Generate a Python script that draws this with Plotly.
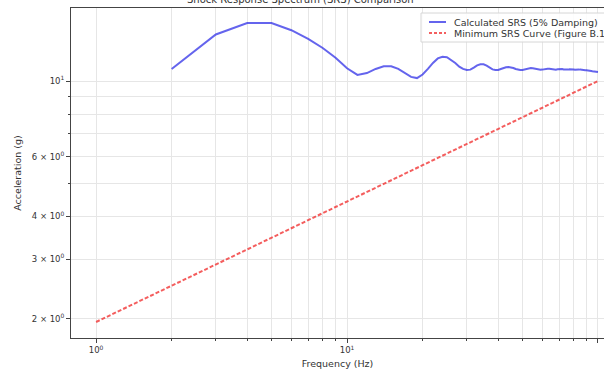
import plotly.graph_objects as go

# Data
calc_freq = list(range(2, 101))
calc_srs = [
    10.85, 13.7, 14.8, 14.8, 14.1, 13.3, 12.5, 11.7, 10.9,          # 2-10
    10.42, 10.55, 10.85, 11.05, 11.05, 10.85, 10.55, 10.28, 10.2, 10.45,  # 11-20
    10.85, 11.3, 11.65, 11.78, 11.75, 11.55, 11.3, 11.02, 10.85, 10.77,  # 21-30
    10.8, 10.95, 11.12, 11.2, 11.2, 11.1, 10.95, 10.82, 10.77, 10.78,    # 31-40
    10.85, 10.93, 10.98, 11.0, 10.98, 10.92, 10.85, 10.8, 10.77, 10.77,  # 41-50
    10.8, 10.86, 10.9, 10.92, 10.9, 10.86, 10.82, 10.8, 10.79, 10.8,     # 51-60
    10.83, 10.86, 10.87, 10.86, 10.83, 10.8, 10.78, 10.79, 10.82, 10.84, # 61-70
    10.85, 10.84, 10.81, 10.79, 10.79, 10.8, 10.82, 10.83, 10.83, 10.81, # 71-80
    10.79, 10.78, 10.78, 10.8, 10.81, 10.81, 10.8, 10.78, 10.76, 10.75,  # 81-90
    10.75, 10.74, 10.72, 10.7, 10.68, 10.66, 10.64, 10.63, 10.62, 10.62, # 91-100
]
min_freq = [1, 10, 100]
min_srs = [1.96, 4.43, 10.0]

series_names = ["Calculated SRS (5% Damping)", "Minimum SRS Curve (Figure B.1)"]

x_major = [1, 10, 100]
x_major_text = ["10<sup>0</sup>", "10<sup>1</sup>", "10<sup>2</sup>"]
x_minor = [2, 3, 4, 5, 6, 7, 8, 9, 20, 30, 40, 50, 60, 70, 80, 90]
y_major = [2, 3, 4, 6, 10]
y_major_text = ["2 × 10<sup>0</sup>", "3 × 10<sup>0</sup>", "4 × 10<sup>0</sup>",
                "6 × 10<sup>0</sup>", "10<sup>1</sup>"]
y_minor = [5, 7, 8, 9]

title = "Shock Response Spectrum (SRS) Comparison"

blue = "rgba(40,40,230,0.72)"
red = "rgba(240,40,40,0.75)"

fig = go.Figure()
fig.add_trace(go.Scatter(x=calc_freq, y=calc_srs, mode="lines",
                         name=series_names[0],
                         line=dict(color=blue, width=2)))
fig.add_trace(go.Scatter(x=min_freq, y=min_srs, mode="lines",
                         name=series_names[1],
                         line=dict(color=red, width=2, dash="4px,2px")))

# plot area geometry in pixels (for the hand-drawn legend)
L, R, T, B = 71, 604, 8, 338
W, H = R - L, B - T
px = lambda x: (x - L) / W
py = lambda y: 1 - (y - T) / H

shapes = [
    dict(type="rect", xref="paper", yref="paper", x0=px(421), x1=px(615),
         y0=py(42), y1=py(13), line=dict(color="#d6d6d6", width=1),
         fillcolor="rgba(255,255,255,0.85)", layer="above"),
    dict(type="line", xref="paper", yref="paper", x0=px(429), x1=px(446),
         y0=py(22), y1=py(22), line=dict(color=blue, width=2), layer="above"),
    dict(type="line", xref="paper", yref="paper", x0=px(429), x1=px(446),
         y0=py(33), y1=py(33), line=dict(color=red, width=2, dash="3px,2px"), layer="above"),
]
annotations = [
    dict(text=title, xref="paper", yref="paper", x=px(300),
         y=1.0, yshift=9, xanchor="center", yanchor="middle",
         showarrow=False, font=dict(size=10, color="#333")),
    dict(text=series_names[0], xref="paper", yref="paper", x=px(452), y=py(22),
         xanchor="left", yanchor="middle", showarrow=False,
         font=dict(size=9.5, color="#333")),
    dict(text=series_names[1], xref="paper", yref="paper", x=px(452), y=py(33),
         xanchor="left", yanchor="middle", showarrow=False,
         font=dict(size=9.5, color="#333")),
]

grid = "#e6e6e6"
fig.update_layout(
    width=604, height=373,
    margin=dict(l=L, r=0, t=T, b=373 - B),
    paper_bgcolor="white", plot_bgcolor="white",
    font=dict(family="DejaVu Sans", size=8.5, color="#333"),
    showlegend=False,
    shapes=shapes,
    annotations=annotations,
)
fig.update_xaxes(type="log", range=[-0.1, 2.024],
                 tickvals=x_major, ticktext=x_major_text,
                 showgrid=True, gridcolor=grid, gridwidth=1,
                 ticks="outside", ticklen=4, tickcolor="#444",
                 showline=True, linecolor="#444", linewidth=1, mirror=True,
                 zeroline=False,
                 minor=dict(tickvals=x_minor, ticks="outside", ticklen=2,
                            tickcolor="#444", showgrid=True, gridcolor=grid),
                 title=dict(text="Frequency (Hz)", standoff=6, font=dict(size=9.5)))
fig.update_yaxes(type="log", range=[0.2452, 1.2144],
                 tickvals=y_major, ticktext=y_major_text,
                 showgrid=True, gridcolor=grid, gridwidth=1,
                 ticks="outside", ticklen=4, tickcolor="#444",
                 showline=True, linecolor="#444", linewidth=1,
                 zeroline=False,
                 minor=dict(tickvals=y_minor, ticks="outside", ticklen=2,
                            tickcolor="#444", showgrid=True, gridcolor=grid),
                 title=dict(text="Acceleration (g)", standoff=8, font=dict(size=9.5)))

fig.write_html("out.html", config={"displayModeBar": False},
               post_script="document.body.style.margin='0px';document.body.style.overflow='hidden';")
